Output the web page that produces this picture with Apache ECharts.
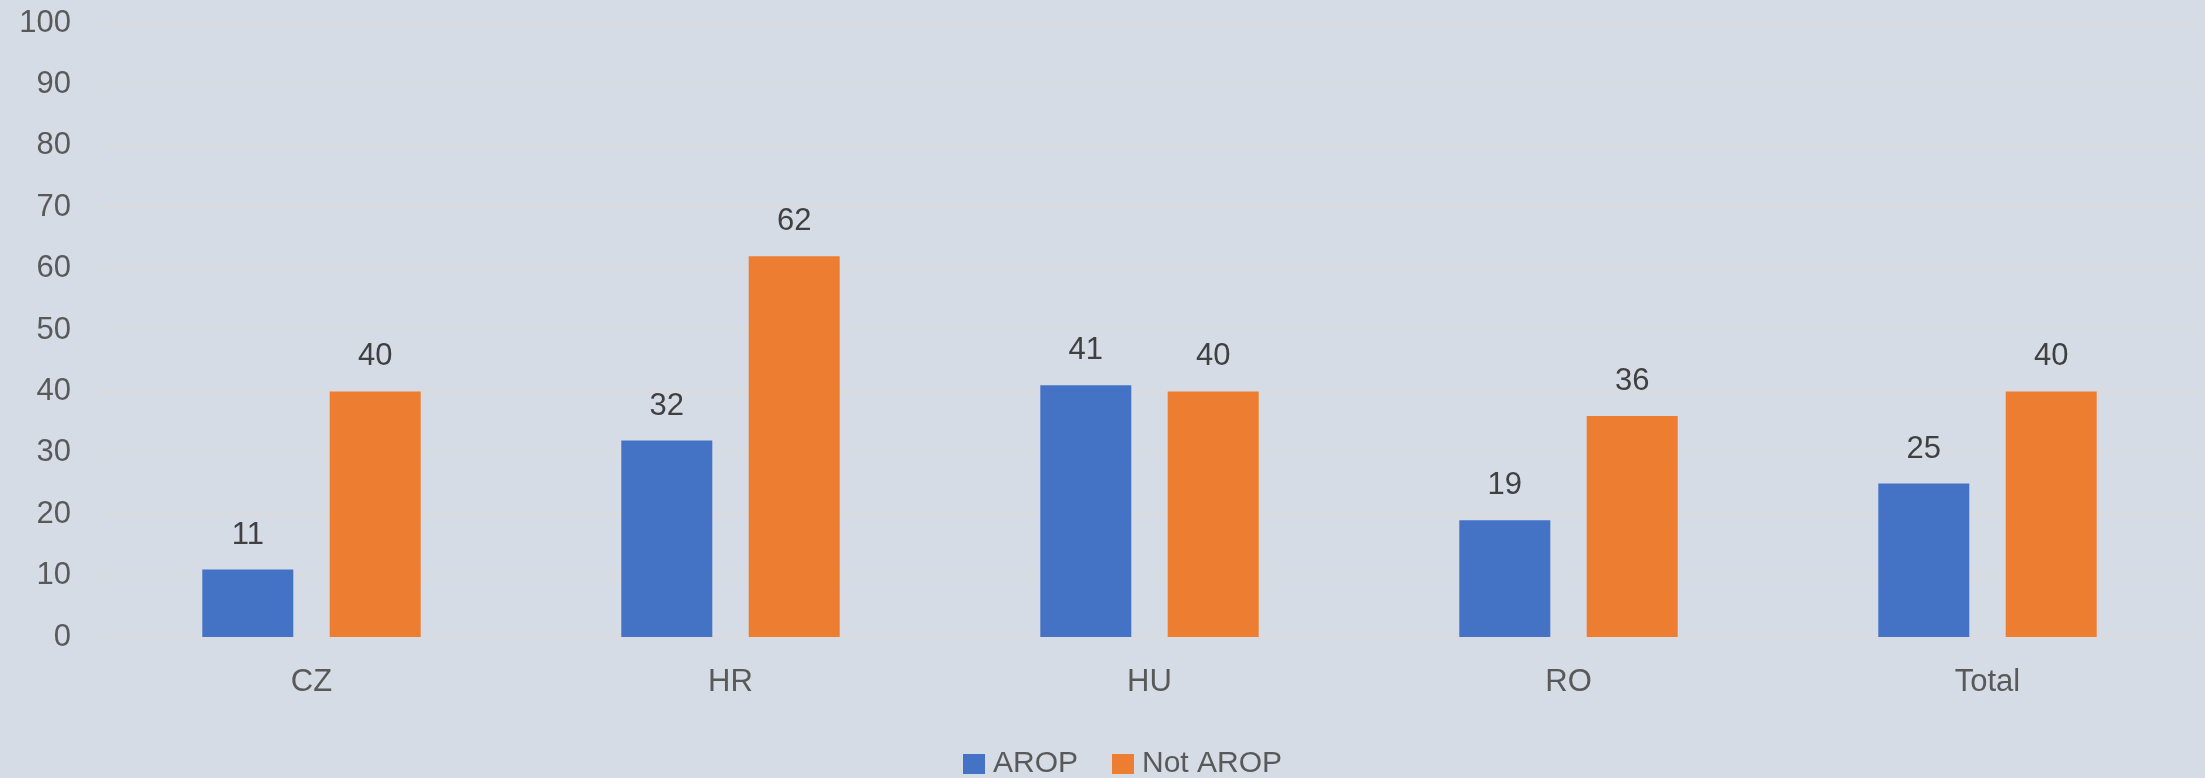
<!DOCTYPE html>
<html>
<head>
<meta charset="utf-8">
<script src="https://cdn.jsdelivr.net/npm/echarts@6/dist/echarts.min.js"></script>
<style>
html,body{margin:0;padding:0;background:#D6DCE5;}
#chart{width:2205px;height:778px;}
</style>
</head>
<body>
<div id="chart"></div>
<script>
const categories = ['CZ', 'HR', 'HU', 'RO', 'Total'];
const seriesNames = ['AROP', 'Not AROP'];
const aropValues = [11, 32, 41, 19, 25];
const notAropValues = [40, 62, 40, 36, 40];
const yTicks = { min: 0, max: 100, interval: 10 };

const FONT = 'Liberation Sans';
const TXT = '#595959';
const GRID = '#DBDBDB';
const chart = echarts.init(document.getElementById('chart'));
chart.setOption({
  backgroundColor: '#D6DCE5',
  animation: false,
  textStyle: { fontFamily: FONT },
  grid: { left: 102, right: 8, top: 23, bottom: 141, containLabel: false },
  legend: {
    data: seriesNames,
    left: 963, top: 749, padding: 0,
    itemWidth: 22, itemHeight: 20, itemGap: 34,
    icon: 'rect',
    textStyle: { fontFamily: FONT, fontSize: 30, color: TXT, padding: [0, 0, 0, 3] }
  },
  xAxis: {
    type: 'category',
    data: categories,
    axisLine: { lineStyle: { color: GRID, width: 2 } },
    axisTick: { show: false },
    axisLabel: { fontFamily: FONT, fontSize: 31, color: TXT, margin: 30 }
  },
  yAxis: {
    type: 'value',
    min: yTicks.min, max: yTicks.max, interval: yTicks.interval,
    axisLine: { show: false },
    axisTick: { show: false },
    splitLine: { lineStyle: { color: GRID, width: 2 } },
    axisLabel: { fontFamily: FONT, fontSize: 31, color: TXT, margin: 31 }
  },
  series: [
    {
      name: seriesNames[0], type: 'bar', data: aropValues,
      barWidth: 91, barGap: '40%',
      itemStyle: { color: '#4472C4' },
      label: { show: true, position: 'top', distance: 19, fontFamily: FONT, fontSize: 31, color: '#404040' }
    },
    {
      name: seriesNames[1], type: 'bar', data: notAropValues,
      barWidth: 91, barGap: '40%',
      itemStyle: { color: '#ED7D31' },
      label: { show: true, position: 'top', distance: 19, fontFamily: FONT, fontSize: 31, color: '#404040' }
    }
  ]
});
</script>
</body>
</html>
